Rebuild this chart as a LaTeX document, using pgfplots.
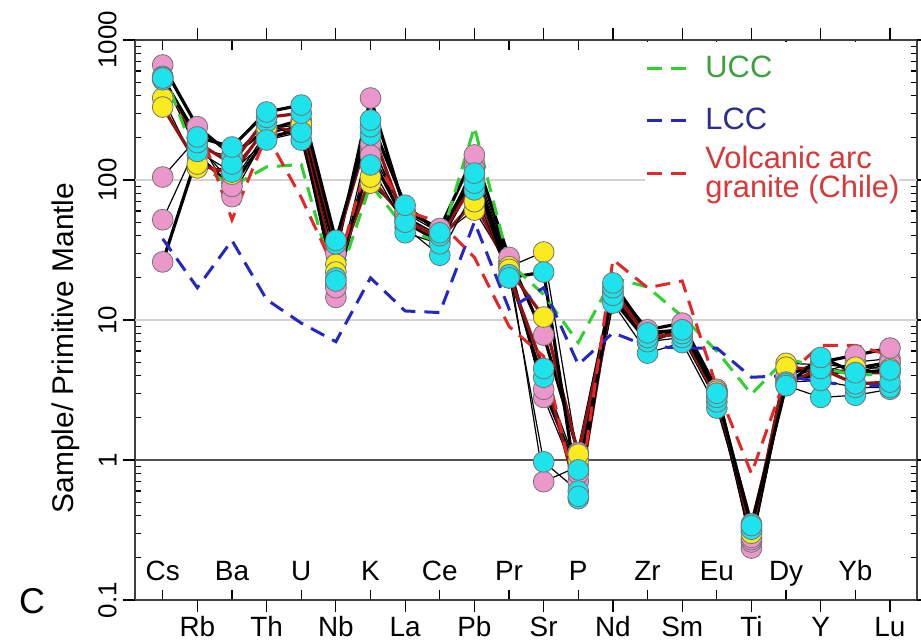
\documentclass[border=0pt]{standalone}
\usepackage{pgfplots}
\pgfplotsset{compat=1.18}
\usepackage{pgfplotstable}
\usepackage{fontspec}
\setmainfont{Liberation Sans}

\definecolor{pinkfill}{HTML}{EC97CB}
\definecolor{yellowfill}{HTML}{FBEA1E}
\definecolor{cyanfill}{HTML}{1FE3EC}
\definecolor{uccline}{HTML}{2FD02F}
\definecolor{lccline}{HTML}{2626C0}
\definecolor{vagline}{HTML}{E02828}
\definecolor{ucctext}{HTML}{3FA03F}
\definecolor{lcctext}{HTML}{2E2E8C}
\definecolor{vagtext}{HTML}{D83838}
\definecolor{darkline}{HTML}{8E1414}

% Primitive-mantle normalised concentrations (one column per sample,
% followed by the reference compositions)
\pgfplotstableread{
idx el C1   C2   C3   C4   Y1   Y2   P1   P2    P3   P4   UCC  LCC  VAG
0   Cs 535  520  550  540  385  332  663  105   52   26   620  38   nan
1   Rb 203  169  160  185  122  130  240  200   180  150  132  17   260
2   Ba 172  146  114  130  120  110  150  76    95   90   90   37   52
3   Th 306  260  193  280  230  240  228  210   220  200  124  14   210
4   U  343  193  220  300  250  220  268  250   240  230  129  9.5  75
5   Nb 37   20   19   35   25   22   30   14.5  18   17   17   7.0  22
6   K  268  128  210  240  95   105  385  164   180  150  93   20   160
7   La 66   46   42   50   55   52   60   55    58   50   45   11.6 60
8   Ce 42   29   35   40   40   38   45   38    42   36   35.5 11.3 50
9   Pb 112  85   100  95   61   70   151  130   120  110  239  50   28
10  Pr 20   20   21   21   24   23   28   26    25   24   25.7 12   9
11  Sr 22   3.9  0.97 4.5  30.6 10.5 7.8  2.8   0.70 3.2  15.2 17   5.5
12  P  0.55 0.85 0.60 0.53 1.0  1.1  1.13 0.70  0.90 0.80 6.9  4.8  0.5
13  Nd 18.4 13.2 15   17   16   15   17   14    15   14   20   8.1  27
14  Zr 8.1  5.8  7.0  7.5  7.8  7.5  8.5  7.0   7.5  7.0  17.2 6.5  17
15  Sm 8.5  6.9  7.5  8.0  8.5  8.0  9.5  9.0   9.0  8.5  10.6 6.3  19
16  Eu 3.0  2.35 2.6  2.8  3.1  3.0  3.2  3.1   3.0  2.9  6.0  6.3  3.3
17  Ti 0.34 0.33 0.32 0.35 0.31 0.30 0.28 0.235 0.26 0.27 2.95 3.9  0.8
18  Dy 3.4  3.4  3.6  3.5  4.9  4.6  4.0  3.8   3.7  3.9  5.3  4.0  4.0
19  Y  5.4  2.8  3.7  4.5  4.8  4.4  5.0  4.6   4.2  4.0  4.6  3.6  6.6
20  Yb 4.2  2.9  3.3  3.5  4.6  4.2  5.6  4.2   5.0  4.5  4.0  3.4  6.6
21  Lu 4.4  3.2  3.3  3.6  4.5  4.2  6.3  4.9   5.3  5.0  4.2  3.4  5.6
}\spider

% labels of the upper row of elements sit inside the frame
\newcommand{\up}[1]{\raisebox{28.5bp}{#1}}

\pgfplotsset{
  refdash/.style={line width=1.5bp, dash pattern=on 7.5bp off 4.5bp},
  sline/.style={no markers, forget plot, line width=#1},
  pinkmk/.style={only marks, forget plot, mark=*, mark size=5.2bp,
    mark options={fill=pinkfill, draw=black!55, line width=0.4bp}},
  yellowmk/.style={only marks, forget plot, mark=*, mark size=5.2bp,
    mark options={fill=yellowfill, draw=black!55, line width=0.4bp}},
  cyanmk/.style={only marks, forget plot, mark=*, mark size=5.2bp,
    mark options={fill=cyanfill, draw=black!55, line width=0.4bp}},
}

\begin{document}
\begin{tikzpicture}
\useasboundingbox (0,0) rectangle (460.5bp,321bp);
\begin{axis}[
  at={(67.5bp,21bp)}, anchor=south west,
  scale only axis, width=391bp, height=280bp,
  ymode=log, ymin=0.1, ymax=1000,
  xmin=-0.8, xmax=21.78,
  axis line style={black!75, line width=0.8bp},
  tick style={black, line width=0.6bp},
  tick align=inside,
  major tick length=5bp, minor tick length=3bp,
  xtick={0,2,...,20},
  xticklabels={\up{Cs},\up{Ba},\up{U},\up{K},\up{Ce},\up{Pr},\up{P},\up{Zr},\up{Eu},\up{Dy},\up{Yb}},
  extra x ticks={1,3,...,21},
  extra x tick labels={Rb,Th,Nb,La,Pb,Sr,Nd,Sm,Ti,Y,Lu},
  extra x tick style={tick align=outside, major tick length=6bp,
    xticklabel style={yshift=6bp}},
  xticklabel style={anchor=base, yshift=-18.5bp, inner sep=0pt,
    font=\fontsize{14}{16}\selectfont},
  ytick={0.1,1,10,100,1000},
  yticklabels={0.1,1,10,100,1000},
  extra y ticks={0.1,1,10,100,1000},
  extra y tick labels={,,,,},
  extra y tick style={tick align=outside, major tick length=6bp},
  yticklabel style={rotate=90, anchor=south, inner sep=0pt,
    font=\fontsize{13}{15}\selectfont},
  yticklabel shift=9bp,
  ylabel={Sample/ Primitive Mantle},
  every axis y label/.style={at={(axis description cs:-0.088,0.45)},
    anchor=center, rotate=90, font=\fontsize{15}{17}\selectfont},
  legend cell align=left,
  legend style={at={(rel axis cs:0.6522,0.997)}, anchor=north west,
    draw=none, fill=white, inner sep=0pt, row sep=0pt, column sep=5bp,
    font=\fontsize{15.5}{14.5}\selectfont,
    nodes={minimum height=26bp, inner sep=0pt}},
  legend image code/.code={\draw[#1] (0bp,0bp) -- (23.5bp,0bp);},
]
% horizontal guide lines
\draw[gray!35, line width=0.7bp] (axis cs:-0.8,100) -- (axis cs:21.78,100);
\draw[gray!35, line width=0.7bp] (axis cs:-0.8,10) -- (axis cs:21.78,10);
\draw[gray!65!black, line width=0.7bp] (axis cs:-0.8,1) -- (axis cs:21.78,1);

% sample patterns: connecting lines
\addplot[sline=0.6bp, black] table[x=idx,y=P2]{\spider};
\addplot[sline=0.6bp, black] table[x=idx,y=P3]{\spider};
\addplot[sline=1.6bp, black] table[x=idx,y=P4]{\spider};
\addplot[sline=1.6bp, black] table[x=idx,y=P1]{\spider};
\addplot[sline=0.6bp, black] table[x=idx,y=Y1]{\spider};
\addplot[sline=1.6bp, darkline] table[x=idx,y=Y2]{\spider};
\addplot[sline=0.6bp, black] table[x=idx,y=C2]{\spider};
\addplot[sline=0.6bp, black] table[x=idx,y=C3]{\spider};
\addplot[sline=1.6bp, darkline] table[x=idx,y=C4]{\spider};
\addplot[sline=1.6bp, black] table[x=idx,y=C1]{\spider};

% reference compositions
\addplot[uccline, refdash] table[x=idx,y=UCC]{\spider};
\addlegendentry[text=ucctext]{UCC}
\addplot[lccline, refdash] table[x=idx,y=LCC]{\spider};
\addlegendentry[text=lcctext]{LCC}
\addplot[vagline, refdash] table[x=idx,y=VAG]{\spider};
\addlegendentry[text=vagtext, align=left]{Volcanic arc\\granite (Chile)}

% sample symbols
\addplot[pinkmk] table[x=idx,y=P2]{\spider};
\addplot[pinkmk] table[x=idx,y=P3]{\spider};
\addplot[pinkmk] table[x=idx,y=P4]{\spider};
\addplot[pinkmk] table[x=idx,y=P1]{\spider};
\addplot[yellowmk] table[x=idx,y=Y1]{\spider};
\addplot[yellowmk] table[x=idx,y=Y2]{\spider};
\addplot[cyanmk] table[x=idx,y=C2]{\spider};
\addplot[cyanmk] table[x=idx,y=C3]{\spider};
\addplot[cyanmk] table[x=idx,y=C4]{\spider};
\addplot[cyanmk] table[x=idx,y=C1]{\spider};
\end{axis}
\node[font=\fontsize{18}{20}\selectfont] at (16bp,20.5bp) {C};
\end{tikzpicture}
\end{document}
